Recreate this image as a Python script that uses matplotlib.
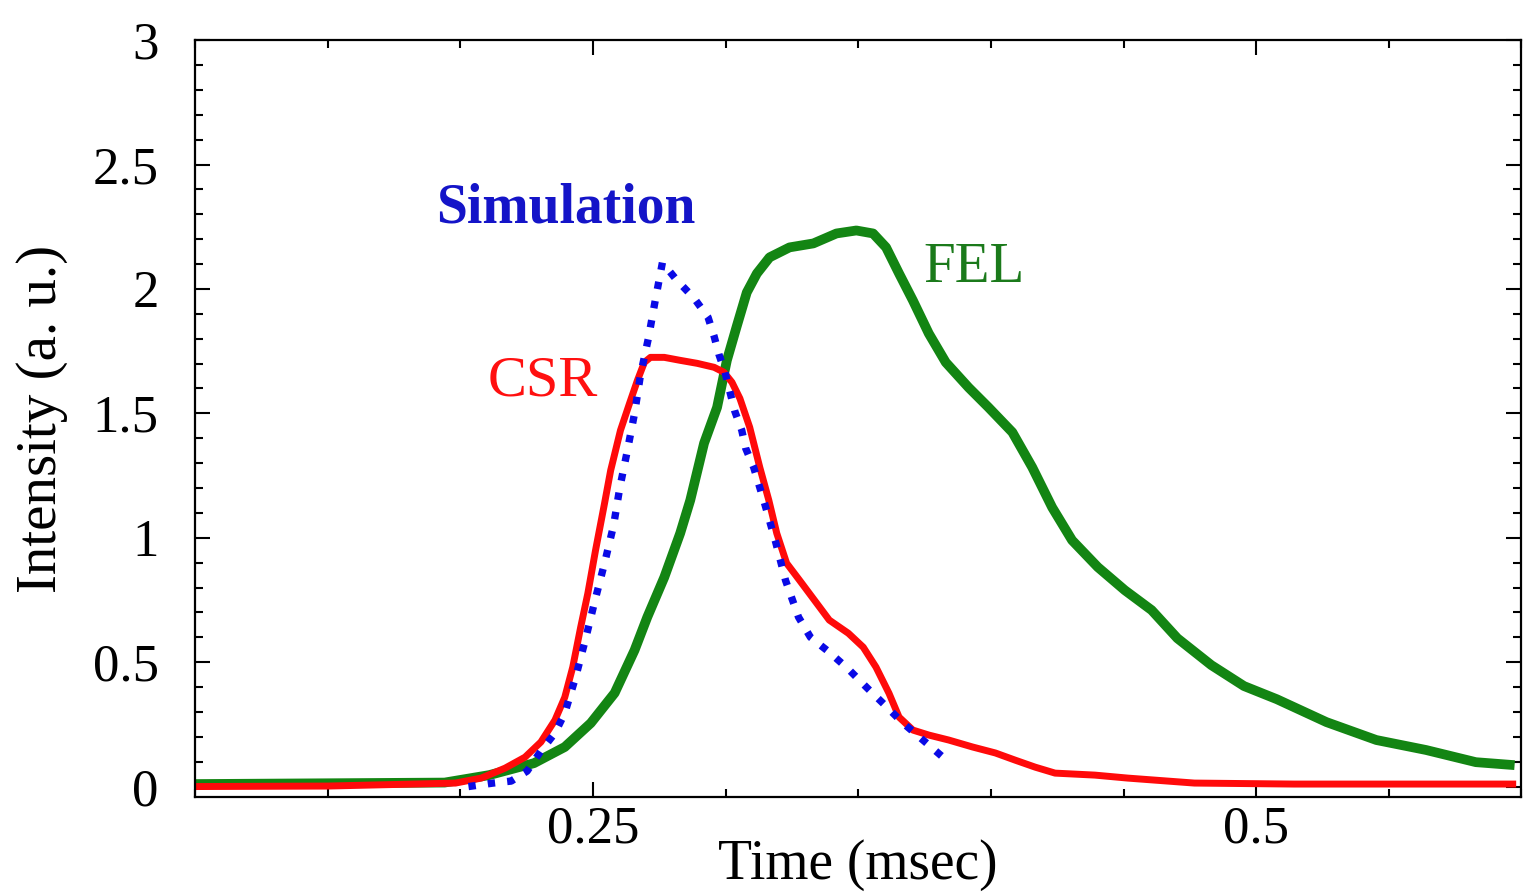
import numpy as np
import matplotlib
matplotlib.use("Agg")
import matplotlib.pyplot as plt
from matplotlib.ticker import MultipleLocator, FormatStrFormatter

plt.rcParams["font.family"] = ["Liberation Serif", "DejaVu Serif"]

# values (time in msec, intensity in a.u.)
sim_t = [0.2031, 0.2124, 0.2192, 0.2252, 0.2304, 0.2357, 0.2394, 0.2436, 0.2473,
         0.2507, 0.2544, 0.2578, 0.2601, 0.2630, 0.2657, 0.2679, 0.2709, 0.2735,
         0.2762, 0.2814, 0.2882, 0.2934, 0.2957, 0.2975, 0.2998, 0.3017, 0.3035,
         0.3061, 0.3076, 0.3106, 0.3148, 0.3189, 0.3226, 0.3275, 0.3320, 0.3391,
         0.3463, 0.3534, 0.3601, 0.3669, 0.3744, 0.3815]
sim_i = [0.000, 0.014, 0.022, 0.062, 0.143, 0.215, 0.295, 0.444, 0.596,
         0.745, 0.898, 1.050, 1.199, 1.351, 1.500, 1.652, 1.801, 1.954,
         2.106, 2.038, 1.962, 1.886, 1.809, 1.737, 1.665, 1.584, 1.508,
         1.432, 1.359, 1.283, 1.135, 0.982, 0.829, 0.681, 0.600, 0.540,
         0.472, 0.396, 0.327, 0.255, 0.187, 0.122]

csr_t = [0.1000, 0.1500, 0.1982, 0.2079, 0.2169, 0.2244, 0.2304, 0.2357, 0.2394,
         0.2424, 0.2454, 0.2481, 0.2510, 0.2544, 0.2567, 0.2604, 0.2638, 0.2668,
         0.2694, 0.2717, 0.2769, 0.2829, 0.2893, 0.2957, 0.2994, 0.3024, 0.3054,
         0.3091, 0.3129, 0.3163, 0.3193, 0.3230, 0.3279, 0.3335, 0.3391, 0.3463,
         0.3519, 0.3567, 0.3616, 0.3654, 0.3706, 0.3766, 0.3841, 0.3931, 0.4017,
         0.4092, 0.4167, 0.4242, 0.4392, 0.4516, 0.4767, 0.5142, 0.5980]
csr_i = [0.000, 0.002, 0.014, 0.034, 0.074, 0.118, 0.179, 0.267, 0.359,
         0.480, 0.641, 0.777, 0.950, 1.139, 1.271, 1.432, 1.540, 1.633,
         1.705, 1.725, 1.725, 1.713, 1.701, 1.685, 1.665, 1.625, 1.560,
         1.444, 1.283, 1.151, 1.018, 0.898, 0.829, 0.749, 0.669, 0.616,
         0.560, 0.480, 0.375, 0.279, 0.227, 0.207, 0.187, 0.159, 0.135,
         0.106, 0.078, 0.054, 0.046, 0.034, 0.014, 0.010, 0.010]

fel_t = [0.1000, 0.1941, 0.2109, 0.2278, 0.2394, 0.2492, 0.2582, 0.2657, 0.2705,
         0.2769, 0.2829, 0.2867, 0.2919, 0.2968, 0.3005, 0.3043, 0.3080, 0.3118,
         0.3166, 0.3241, 0.3331, 0.3418, 0.3493, 0.3556, 0.3605, 0.3654, 0.3706,
         0.3766, 0.3830, 0.3916, 0.3991, 0.4081, 0.4156, 0.4231, 0.4306, 0.4403,
         0.4505, 0.4606, 0.4703, 0.4831, 0.4954, 0.5078, 0.5265, 0.5453, 0.5640,
         0.5828, 0.5974]
fel_i = [0.010, 0.016, 0.046, 0.094, 0.159, 0.255, 0.376, 0.548, 0.681,
         0.841, 1.018, 1.151, 1.380, 1.524, 1.713, 1.853, 1.986, 2.062,
         2.127, 2.167, 2.183, 2.223, 2.235, 2.223, 2.167, 2.062, 1.954,
         1.821, 1.705, 1.604, 1.524, 1.424, 1.283, 1.122, 0.990, 0.882,
         0.789, 0.709, 0.596, 0.488, 0.404, 0.351, 0.259, 0.187, 0.147,
         0.098, 0.086]

fig = plt.figure(figsize=(15.23, 8.92), dpi=100)
ax = fig.add_axes([0.128, 0.1065, 0.871, 0.8485])

ax.plot(fel_t, fel_i, color="#138513", lw=7, solid_capstyle="butt",
        solid_joinstyle="round")
ax.plot(csr_t, csr_i, color="#ff0a0a", lw=5, solid_capstyle="butt",
        solid_joinstyle="round")
ax.plot(sim_t, sim_i, color="#0a0ae6", lw=5.3, linestyle=(0, (1, 1.65)),
        dash_capstyle="butt")

ax.text(0.2398, 2.267, "Simulation", color="#1414c8", fontsize=40,
        fontweight="bold", ha="center", va="baseline")
ax.text(0.2312, 1.572, "CSR", color="#ff1010", fontsize=42,
        ha="center", va="baseline")
ax.text(0.3935, 2.026, "FEL", color="#1b7a1b", fontsize=41,
        ha="center", va="baseline")

ax.set_xlim(0.1, 0.6)
ax.set_ylim(-0.042, 3)

ax.xaxis.set_major_locator(MultipleLocator(0.25))
ax.xaxis.set_minor_locator(MultipleLocator(0.05))
ax.yaxis.set_major_locator(MultipleLocator(0.5))
ax.yaxis.set_minor_locator(MultipleLocator(0.1))
ax.xaxis.set_major_formatter(FormatStrFormatter("%g"))
ax.yaxis.set_major_formatter(FormatStrFormatter("%g"))

ax.tick_params(which="both", direction="in", top=True, right=True,
               labelsize=38, width=1.5)
ax.tick_params(which="major", length=11)
ax.tick_params(which="minor", length=6)
ax.tick_params(axis="y", pad=26)
ax.tick_params(axis="x", pad=6)
for sp in ax.spines.values():
    sp.set_linewidth(1.6)

ax.set_xlabel("Time (msec)", fontsize=40)
ax.set_ylabel("Intensity (a. u.)", fontsize=41)
ax.xaxis.set_label_coords(0.5, -0.055)
ax.yaxis.set_label_coords(-0.096, 0.5)

fig.savefig("out.png", dpi=100)
